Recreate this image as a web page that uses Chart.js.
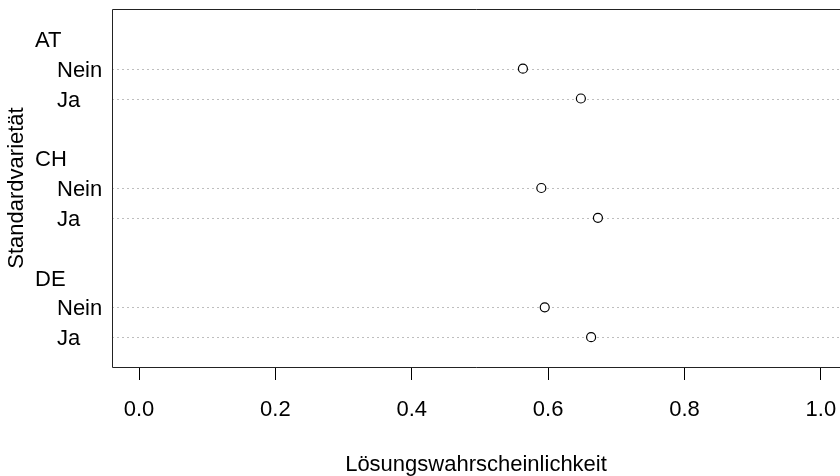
<!DOCTYPE html>
<html><head><meta charset="utf-8">
<script src="https://cdn.jsdelivr.net/npm/chart.js@4/dist/chart.umd.min.js"></script>
<style>html,body{margin:0;padding:0;background:#fff;overflow:hidden}</style>
</head><body>
<canvas id="c" width="840" height="476"></canvas>
<script>
// ---- data ----
const groups = ["AT", "CH", "DE"];
const items = ["Nein", "Ja"];
const valuesAT = [0.563, 0.648];
const valuesCH = [0.590, 0.673];
const valuesDE = [0.595, 0.663];
const xTicks = [0.0, 0.2, 0.4, 0.6, 0.8, 1.0];
const xTitle = "Lösungswahrscheinlichkeit";
const yTitle = "Standardvarietät";

const groupValues = [valuesAT, valuesCH, valuesDE];
const FONT = "'Liberation Sans', Arial, sans-serif";
const FS = 22;

// dotchart-style row positions (top to bottom, with a blank row between groups)
const rows = []; // {label, y, isGroup}
const points = [];
let pos = groups.length * (items.length + 2) - 1;
groups.forEach((g, gi) => {
  rows.push({label: g, y: pos, isGroup: true});
  pos--;
  items.forEach((it, ii) => {
    rows.push({label: it, y: pos, isGroup: false});
    points.push({x: groupValues[gi][ii], y: pos});
    pos--;
  });
  pos--;
});
const yMax = groups.length * (items.length + 2);

const dotPlugin = {
  id: 'dotPlugin',
  beforeDatasetsDraw(chart) {
    const {ctx, chartArea: a, scales: {y}} = chart;
    ctx.save();
    ctx.strokeStyle = '#bebebe';
    ctx.lineWidth = 1;
    ctx.setLineDash([2, 3]);
    rows.filter(r => !r.isGroup).forEach(r => {
      const py = Math.round(y.getPixelForValue(r.y)) + 0.5;
      ctx.beginPath();
      ctx.moveTo(a.left, py);
      ctx.lineTo(a.right, py);
      ctx.stroke();
    });
    ctx.restore();
  },
  afterDraw(chart) {
    const {ctx, chartArea: a, scales: {y}} = chart;
    ctx.save();
    // box (right side lies outside the picture)
    ctx.strokeStyle = '#222';
    ctx.lineWidth = 1;
    ctx.setLineDash([]);
    const L = Math.round(a.left) + 0.5, T = Math.round(a.top) + 0.5, B = Math.round(a.bottom) + 0.5;
    ctx.beginPath();
    ctx.moveTo(a.right, T); ctx.lineTo(L, T); ctx.lineTo(L, B); ctx.lineTo(a.right, B);
    ctx.stroke();
    // row labels
    ctx.fillStyle = '#000';
    ctx.font = FS + 'px ' + FONT;
    ctx.textBaseline = 'middle';
    ctx.textAlign = 'left';
    rows.forEach(r => {
      ctx.fillText(r.label, r.isGroup ? 35 : 57, y.getPixelForValue(r.y) + 2);
    });
    ctx.restore();
  }
};

new Chart(document.getElementById('c'), {
  type: 'scatter',
  data: {
    datasets: [{
      data: points,
      pointStyle: 'circle',
      pointRadius: 4.5,
      pointBorderWidth: 1.2,
      pointBorderColor: '#000',
      pointBackgroundColor: '#fff'
    }]
  },
  options: {
    responsive: false,
    devicePixelRatio: 1,
    animation: false,
    layout: {autoPadding: false, padding: {left: 0, top: 9, right: 0, bottom: 0}},
    plugins: {legend: {display: false}, tooltip: {enabled: false}},
    scales: {
      x: {
        type: 'linear',
        min: -0.0396,
        max: 1.028,
        afterBuildTicks: s => { s.ticks = xTicks.map(v => ({value: v})); },
        afterFit: s => { s.height = 109; s.paddingLeft = 0; s.paddingRight = 0; },
        ticks: {
          callback: v => Number(v).toFixed(1),
          font: {family: FONT, size: FS},
          color: '#000',
          padding: 17,
          maxRotation: 0,
          autoSkip: false
        },
        grid: {drawOnChartArea: false, drawTicks: true, tickLength: 13, tickColor: '#000', tickWidth: 1},
        border: {display: false},
        title: {display: true, text: xTitle, color: '#000', font: {family: FONT, size: FS, lineHeight: 1}, padding: {top: 0, bottom: 0}}
      },
      y: {
        type: 'linear',
        min: 0,
        max: yMax,
        afterFit: s => { s.width = 112; },
        ticks: {display: false},
        grid: {display: false},
        border: {display: false},
        title: {display: true, text: yTitle, color: '#000', font: {family: FONT, size: FS, lineHeight: 1}, padding: {top: 6, bottom: 0}}
      }
    }
  },
  plugins: [dotPlugin]
});
</script>
</body></html>
